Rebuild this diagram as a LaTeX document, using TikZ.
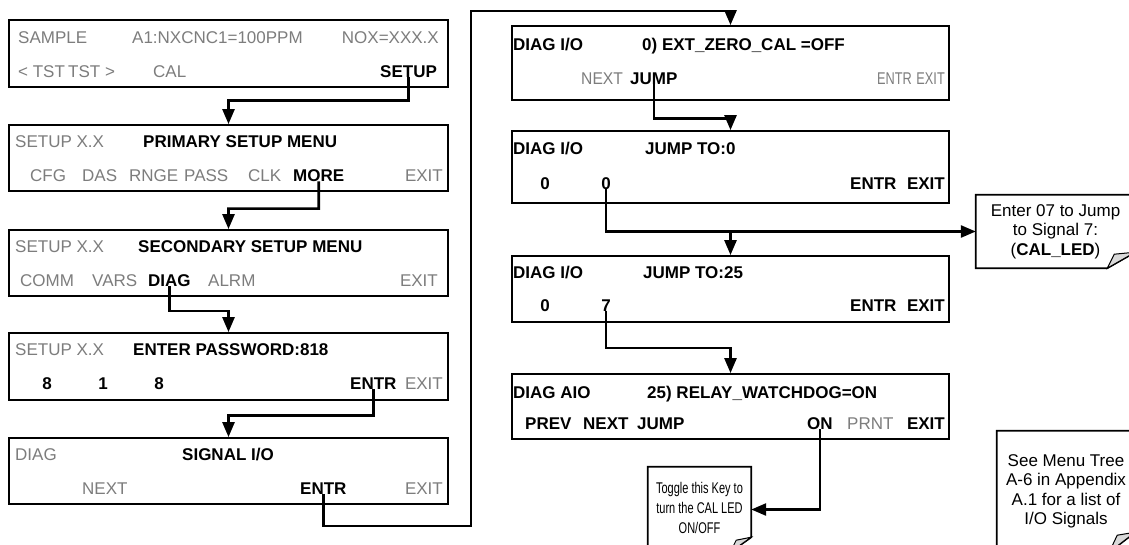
\documentclass[tikz,border=0pt]{standalone}
\usepackage{fontspec}
\setmainfont{Liberation Sans}
\usepackage{xcolor}
\usepackage{tikz}
\usetikzlibrary{arrows.meta,positioning,calc}

\definecolor{keygray}{RGB}{125,125,125}
\newcommand{\panelfont}{\fontsize{17}{19.5}\selectfont}

\begin{document}
\begin{tikzpicture}[x=1pt, y=-1pt, font=\panelfont,
  screen/.style={rectangle, draw, line width=1.8pt, minimum width=439pt, inner sep=0pt},
  soft/.style={anchor=base west, inner sep=0pt, text=keygray},
  hard/.style={anchor=base west, inner sep=0pt, font=\panelfont\bfseries},
  flow/.style={line width=2.6pt, -{Triangle[width=12pt,length=15pt]}},
  note/.style={rectangle, align=center, inner sep=0pt},
  noteline/.style={line width=1.8pt},
  flap/.style={draw, fill=black!15, line width=1pt}
]
\useasboundingbox (0,0) rectangle (1129,544);
\fill[white] (0,0) rectangle (1129,544);
\clip (0,0) rectangle (1129,544);

% left column of screens
\node[screen, minimum height=67pt] (bSample) at (228.5,53.5) {};
\node[screen, minimum height=66pt] (bPrimary) at (228.5,158) {};
\node[screen, minimum height=66pt] (bSecondary) at (228.5,263) {};
\node[screen, minimum height=67pt] (bPassword) at (228.5,366.5) {};
\node[screen, minimum height=66pt] (bSignal) at (228.5,471) {};

% right column of screens
\node[screen, minimum width=437pt, minimum height=74pt] (bExtZero) at (730.5,63) {};
\node[screen, minimum width=437pt, minimum height=72pt] (bJump0) at (730.5,167) {};
\node[screen, minimum width=437pt, minimum height=66pt] (bJump25) at (730.5,289) {};
\node[screen, minimum width=437pt, minimum height=65pt] (bWatchdog) at (730.5,406.5) {};

% SAMPLE screen
\node[soft] (tSample) at (18,43) {SAMPLE};
\node[soft] (tConc) at (132,43) {A1:NXCNC1=100PPM};
\node[soft, anchor=base east] (tNox) at (439,43) {NOX=XXX.X};
\node[soft] (kTstDown) at (18,77) {< TST};
\node[soft] (kTstUp) at (68,77) {TST >};
\node[soft] (kCal) at (153,77) {CAL};
\node[hard] (kSetup) at (380,77) {SETUP};

% PRIMARY SETUP MENU
\node[soft] (tPrimMode) at (15,147) {SETUP X.X};
\node[hard] (tPrim) at (143,147) {PRIMARY SETUP MENU};
\node[soft] (kCfg) at (30,181) {CFG};
\node[soft] (kDas) at (82,181) {DAS};
\node[soft] (kRnge) at (129,181) {RNGE};
\node[soft] (kPass) at (184,181) {PASS};
\node[soft] (kClk) at (248,181) {CLK};
\node[hard] (kMore) at (293,181) {MORE};
\node[soft, anchor=base east] (kExit2) at (443,181) {EXIT};

% SECONDARY SETUP MENU
\node[soft] (tSecMode) at (15,252) {SETUP X.X};
\node[hard] (tSec) at (138,252) {SECONDARY SETUP MENU};
\node[soft] (kComm) at (20,286) {COMM};
\node[soft] (kVars) at (92,286) {VARS};
\node[hard] (kDiag) at (148,286) {DIAG};
\node[soft] (kAlrm) at (208,286) {ALRM};
\node[soft, anchor=base east] (kExit3) at (438,286) {EXIT};

% ENTER PASSWORD
\node[soft] (tPwMode) at (15,355) {SETUP X.X};
\node[hard] (tPw) at (133,355) {ENTER PASSWORD:818};
\node[hard, anchor=base] (kEight1) at (47,389) {8};
\node[hard, anchor=base] (kOne) at (103,389) {1};
\node[hard, anchor=base] (kEight2) at (159,389) {8};
\node[hard] (kEntr4) at (350,389) {ENTR};
\node[soft, anchor=base east] (kExit4) at (443,389) {EXIT};

% SIGNAL I/O
\node[soft] (tSigMode) at (15,460) {DIAG};
\node[hard] (tSig) at (182,460) {SIGNAL I/O};
\node[soft] (kNext5) at (82,494) {NEXT};
\node[hard] (kEntr5) at (300,494) {ENTR};
\node[soft, anchor=base east] (kExit5) at (443,494) {EXIT};

% EXT_ZERO_CAL
\node[hard] (tExtMode) at (513,50) {DIAG I/O};
\node[hard] (tExt) at (642,50) {0) EXT\_ZERO\_CAL =OFF};
\node[soft] (kNext6) at (581,84) {\scalebox{0.92}[1]{NEXT}};
\node[hard] (kJump) at (630,84) {JUMP};
\node[soft] (kEntr6) at (877,84) {\scalebox{0.75}[1]{ENTR}};
\node[soft, anchor=base east] (kExit6) at (945,84) {\scalebox{0.75}[1]{EXIT}};

% JUMP TO:0
\node[hard] (tJ0Mode) at (513,154) {DIAG I/O};
\node[hard] (tJ0) at (645,154) {JUMP TO:0};
\node[hard, anchor=base] (kZero1) at (545,189) {0};
\node[hard, anchor=base] (kZero2) at (606,189) {0};
\node[hard] (kEntr7) at (850,189) {ENTR};
\node[hard, anchor=base east] (kExit7) at (945,189) {EXIT};

% JUMP TO:25
\node[hard] (tJ25Mode) at (513,278) {DIAG I/O};
\node[hard] (tJ25) at (643,278) {JUMP TO:25};
\node[hard, anchor=base] (kZero3) at (545,311) {0};
\node[hard, anchor=base] (kSeven) at (606,311) {7};
\node[hard] (kEntr8) at (850,311) {ENTR};
\node[hard, anchor=base east] (kExit8) at (945,311) {EXIT};

% RELAY_WATCHDOG
\node[hard] (tWdMode) at (513,398) {DIAG AIO};
\node[hard] (tWd) at (647,398) {25) RELAY\_WATCHDOG=ON};
\node[hard] (kPrev) at (525,429) {PREV};
\node[hard] (kNext9) at (583,429) {NEXT};
\node[hard] (kJump9) at (637,429) {JUMP};
\node[hard] (kOn) at (807,429) {ON};
\node[soft] (kPrnt) at (847,429) {PRNT};
\node[hard, anchor=base east] (kExit9) at (945,429) {EXIT};

% notes
\node[note, minimum width=159pt, minimum height=73pt] (cEnter) at (1055.5,231.5)
  {Enter 07 to Jump\\to Signal 7:\\(\textbf{CAL\_LED})};
\node[note, minimum width=103pt, minimum height=85pt] (cToggle) at (699.5,509.5)
  {\fontsize{15.5}{20}\selectfont\scalebox{0.71}[1]{\begin{tabular}{@{}c@{}}Toggle this Key to\\turn the CAL LED\\ON/OFF\end{tabular}}};
\node[note, minimum width=138pt, minimum height=121pt] (cSee) at (1066,491.5)
  {See Menu Tree\\A-6 in Appendix\\A.1 for a list of\\I/O Signals};

\draw[noteline] (cEnter.north west) -- (cEnter.north east) -- ($(cEnter.south east)+(0,-16)$)
  -- ($(cEnter.south east)+(-28,0)$) -- (cEnter.south west) -- cycle;
\draw[flap] ($(cEnter.south east)+(-28,0)$) -- ($(cEnter.south east)+(-21,-14)$) -- ($(cEnter.south east)+(0,-16)$) -- cycle;
\draw[noteline] (cToggle.north west) -- (cToggle.north east) -- ($(cToggle.south east)+(0,-15)$)
  -- ($(cToggle.south east)+(-21,0)$) -- (cToggle.south west) -- cycle;
\draw[flap] ($(cToggle.south east)+(-21,0)$) -- ($(cToggle.south east)+(-15,-12)$) -- ($(cToggle.south east)+(0,-15)$) -- cycle;
\draw[noteline] (cSee.north west) -- (cSee.north east) -- ($(cSee.south east)+(0,-20)$)
  -- ($(cSee.south east)+(-26,0)$) -- (cSee.south west) -- cycle;
\draw[flap] ($(cSee.south east)+(-26,0)$) -- ($(cSee.south east)+(-18,-17)$) -- ($(cSee.south east)+(0,-20)$) -- cycle;

% connectors
\coordinate (loopLow) at (471,526);
\coordinate (loopHigh) at (471,11);
\coordinate (split) at (bJump25.north |- cEnter.west);

\draw[flow] (kSetup.south) |- ($(bSample.south)!.35!(bPrimary.north)$) -- (bPrimary.north);
\draw[flow] (kMore.south) |- ($(bPrimary.south)!.45!(bSecondary.north)$) -- (bSecondary.north);
\draw[flow] (kDiag.south) |- ($(bSecondary.south)!.4!(bPassword.north)$) -- (bPassword.north);
\draw[flow] (kEntr4.south) |- ($(bPassword.south)!.4!(bSignal.north)$) -- (bSignal.north);
\draw[flow] (kEntr5.south) |- (loopLow) -- (loopHigh) -| (bExtZero.north);
\draw[flow] (kJump.south) |- ($(bExtZero.south)!.6!(bJump0.north)$) -- (bJump0.north);
\draw[flow] (kZero2.south) |- (cEnter.west);
\draw[flow] (split) -- (bJump25.north);
\draw[flow] (kSeven.south) |- ($(bJump25.south)!.5!(bWatchdog.north)$) -- (bWatchdog.north);
\draw[flow] (kOn.south) |- (cToggle.east);
\end{tikzpicture}
\end{document}
